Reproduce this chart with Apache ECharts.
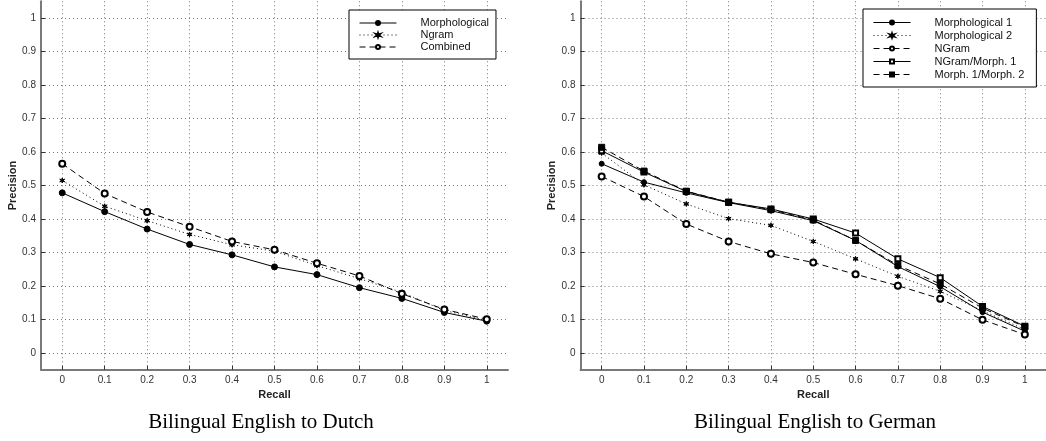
<!DOCTYPE html>
<html>
<head>
<meta charset="utf-8">
<title>Bilingual precision / recall</title>
<script src="https://cdn.jsdelivr.net/npm/echarts@6/dist/echarts.min.js"></script>
<style>
  html, body { margin: 0; padding: 0; background: #fff; }
  #chart { width: 1046px; height: 441px; }
</style>
</head>
<body>
<div id="chart"></div>
<script>
(function (echarts) {
  "use strict";

  // recall points, shared by both panels
  var recall = [0, 0.1, 0.2, 0.3, 0.4, 0.5, 0.6, 0.7, 0.8, 0.9, 1];
  var tickValues = [0, 0.1, 0.2, 0.3, 0.4, 0.5, 0.6, 0.7, 0.8, 0.9, 1];

  // English to Dutch
  var dutchMorphological = [0.478, 0.422, 0.370, 0.324, 0.293, 0.257, 0.234, 0.195, 0.163, 0.121, 0.095];
  var dutchNgram         = [0.515, 0.438, 0.395, 0.354, 0.323, 0.304, 0.261, 0.222, 0.181, 0.127, 0.097];
  var dutchCombined      = [0.565, 0.476, 0.421, 0.377, 0.333, 0.308, 0.268, 0.230, 0.177, 0.130, 0.101];

  // English to German
  var germanMorph1       = [0.565, 0.510, 0.478, 0.449, 0.425, 0.395, 0.336, 0.258, 0.198, 0.122, 0.065];
  var germanMorph2       = [0.597, 0.502, 0.445, 0.401, 0.381, 0.333, 0.281, 0.229, 0.184, 0.126, 0.070];
  var germanNgram        = [0.527, 0.467, 0.385, 0.333, 0.296, 0.270, 0.235, 0.201, 0.162, 0.099, 0.055];
  var germanNgramMorph1  = [0.604, 0.540, 0.482, 0.450, 0.430, 0.400, 0.358, 0.281, 0.225, 0.139, 0.080];
  var germanMorph1Morph2 = [0.614, 0.543, 0.483, 0.450, 0.428, 0.397, 0.336, 0.262, 0.206, 0.134, 0.078];

  var SANS = '"Liberation Sans", Arial, Helvetica, sans-serif';
  var SERIF = '"Liberation Serif", "Times New Roman", serif';
  var ASTERISK = 'path://M0,-5L1,-1.6L4.4,-2.6L1.8,0L4.4,2.6L1,1.6L0,5L-1,1.6L-4.4,2.6L-1.8,0L-4.4,-2.6L-1,-1.6Z';

  function pairs(values) {
    return recall.map(function (r, i) { return [r, values[i]]; });
  }

  function axis(gridIndex, name, isX) {
    return {
      type: 'value',
      gridIndex: gridIndex,
      min: -0.05,
      max: 1.05,
      name: name,
      nameLocation: 'middle',
      nameGap: isX ? 17 : 21,
      nameTextStyle: { fontFamily: SANS, fontSize: 11, fontWeight: 'bold', color: '#222' },
      axisLine: { show: true, onZero: false, lineStyle: { color: '#7a7a7a', width: 2 } },
      axisTick: { show: true, inside: true, length: 4, customValues: tickValues,
        lineStyle: { color: '#333', width: 1 } },
      axisLabel: { customValues: tickValues, margin: 5,
        fontFamily: SANS, fontSize: 10, color: '#333' },
      splitLine: { show: true, lineStyle: { color: '#777', width: 1, type: [1, 3] } }
    };
  }

  function line(name, gridIndex, values, dash, symbol, size) {
    return {
      name: name,
      type: 'line',
      xAxisIndex: gridIndex,
      yAxisIndex: gridIndex,
      data: pairs(values),
      symbol: symbol,
      symbolSize: size,
      showAllSymbol: true,
      animation: false,
      lineStyle: { color: '#000', width: 1, type: dash },
      itemStyle: { color: '#000', borderColor: '#000', borderWidth: 1 }
    };
  }

  function legend(left, top, names, gap, pad) {
    return {
      orient: 'vertical',
      left: left,
      top: top,
      data: names,
      itemWidth: 37,
      itemHeight: 5,
      itemGap: 0,
      padding: pad,
      borderColor: '#000',
      borderWidth: 1,
      backgroundColor: '#fff',
      selectedMode: false,
      lineStyle: { width: 1 },
      textStyle: { fontFamily: SANS, fontSize: 11, color: '#111', lineHeight: gap, padding: [0, 0, 0, 19] }
    };
  }

  function caption(x, text) {
    return {
      type: 'text',
      x: x,
      y: 422,
      style: { text: text, font: '21px ' + SERIF, fill: '#000',
        textAlign: 'center', textVerticalAlign: 'middle' }
    };
  }

  var chart = echarts.init(document.getElementById('chart'), null, { renderer: 'canvas' });

  chart.setOption({
    backgroundColor: '#fff',
    animation: false,
    grid: [
      { left: 41, width: 467, top: 1.25, bottom: 71.25 },
      { left: 580.5, width: 468, top: 1.25, bottom: 71.25 }
    ],
    xAxis: [axis(0, 'Recall', true), axis(1, 'Recall', true)],
    yAxis: [axis(0, 'Precision', false), axis(1, 'Precision', false)],
    legend: [
      legend(349, 10, ['Morphological', 'Ngram', 'Combined'], 12, [7, 7, 6, 10]),
      legend(863, 9, ['Morphological 1', 'Morphological 2', 'NGram', 'NGram/Morph. 1', 'Morph. 1/Morph. 2'], 13, [7, 12, 6, 10])
    ],
    series: [
      line('Morphological', 0, dutchMorphological, 'solid', 'circle', 6),
      line('Ngram', 0, dutchNgram, [1, 3], ASTERISK, 5),
      line('Combined', 0, dutchCombined, [6, 4], 'emptyCircle', 6),
      line('Morphological 1', 1, germanMorph1, 'solid', 'circle', 5),
      line('Morphological 2', 1, germanMorph2, [1, 3], ASTERISK, 5),
      line('NGram', 1, germanNgram, [6, 4], 'emptyCircle', 6),
      line('NGram/Morph. 1', 1, germanNgramMorph1, 'solid', 'emptyRect', 5),
      line('Morph. 1/Morph. 2', 1, germanMorph1Morph2, [6, 4], 'rect', 6)
    ],
    graphic: [
      caption(261, 'Bilingual English to Dutch'),
      caption(815, 'Bilingual English to German')
    ]
  });
})(echarts);
</script>
</body>
</html>
